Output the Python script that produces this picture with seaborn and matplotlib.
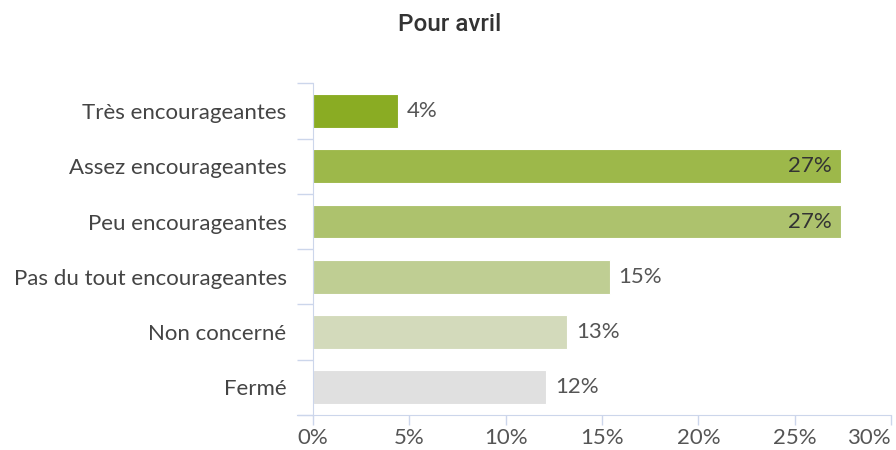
import matplotlib
matplotlib.use("Agg")
import matplotlib.pyplot as plt
import seaborn as sns
import pandas as pd

# data
categories = ["Très encourageantes", "Assez encourageantes", "Peu encourageantes",
              "Pas du tout encourageantes", "Non concerné", "Fermé"]
values = [4.4, 27.4, 27.4, 15.4, 13.2, 12.1]
labels = ["4%", "27%", "27%", "15%", "13%", "12%"]
colors = ["#8aac23", "#9db84a", "#adc26d", "#bfce93", "#d3dabb", "#e0e0e0"]
xticks = [0, 5, 10, 15, 20, 25, 30]

df = pd.DataFrame({"cat": categories, "val": values})

sns.set_style("white")
plt.rcParams["font.family"] = ["Lato", "DejaVu Sans"]

fig = plt.figure(figsize=(8.96, 4.5), dpi=100)
ax = fig.add_axes([0.3493, 0.0778, 0.6451, 0.7371])

sns.barplot(data=df, x="val", y="cat", hue="cat", palette=colors, legend=False,
            saturation=1, width=0.61, edgecolor="white", linewidth=0.8, ax=ax)

axis_col = "#ccd6eb"
fs = 16
ax.set_xlim(0, 30)
ax.set_ylim(len(categories) - 0.5, -0.5)
ax.set_xticks(xticks)
ax.set_xticklabels([f"{t}%" for t in xticks])
ax.set_xlabel("")
ax.set_ylabel("")

for s in ["top", "right"]:
    ax.spines[s].set_visible(False)
ax.spines["left"].set_color(axis_col)
ax.spines["bottom"].set_color(axis_col)

# y ticks sit between categories, drawn as minor ticks
ax.set_yticks(range(len(categories)))
ax.set_yticklabels(categories)
ax.set_yticks([i - 0.5 for i in range(len(categories) + 1)], minor=True)
ax.tick_params(axis="y", which="major", length=0, pad=19, labelsize=fs, labelcolor="#444444")
ax.tick_params(axis="y", which="minor", length=11.5, color=axis_col, width=1, left=True)
ax.tick_params(axis="x", which="major", length=7.2, color=axis_col, width=1, bottom=True,
               labelsize=fs, labelcolor="#555555", pad=2.5)
ax.get_xticklabels()[-1].set_ha("right")
ax.spines["bottom"].set_bounds(-0.85, 30)
ax.spines["bottom"].set_clip_on(False)

for i, (v, lab) in enumerate(zip(values, labels)):
    if v > 25:
        ax.text(v - 0.45, i, lab, ha="right", va="center", fontsize=fs, color="#333333")
    else:
        ax.text(v + 0.45, i, lab, ha="left", va="center", fontsize=fs, color="#555555")

fig.text(0.502, 0.945, "Pour avril", ha="center", va="center", fontsize=17.5, color="#333333",
         family=["Roboto", "DejaVu Sans"], weight="medium")

fig.savefig("out.png", dpi=100)
